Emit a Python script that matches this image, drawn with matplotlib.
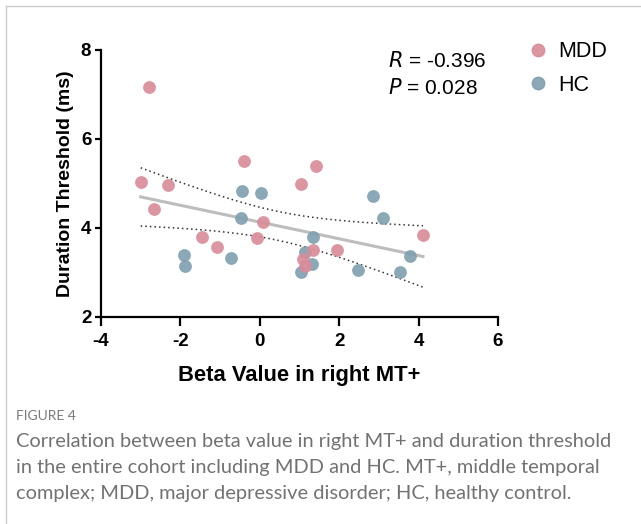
import numpy as np
import matplotlib.pyplot as plt
from matplotlib.lines import Line2D

# data
mdd_x = [-3.00, -2.78, -2.67, -2.32, -1.46, -1.09, -0.40, -0.08, 0.09, 1.04, 1.41, 1.10, 1.15, 1.33, 1.94, 4.11]
mdd_y = [5.03, 7.16, 4.42, 4.97, 3.80, 3.57, 5.50, 3.77, 4.13, 4.98, 5.39, 3.29, 3.14, 3.51, 3.50, 3.83]
hc_x = [-1.92, -1.89, -0.72, -0.45, -0.48, 0.02, 1.04, 1.14, 1.31, 1.33, 2.47, 2.85, 3.10, 3.53, 3.79]
hc_y = [3.38, 3.15, 3.33, 4.82, 4.23, 4.78, 3.01, 3.45, 3.19, 3.79, 3.05, 4.71, 4.22, 3.01, 3.36]
r_text = "-0.396"
p_text = "0.028"
caption_lines = ["Correlation between beta value in right MT+ and duration threshold",
                 "in the entire cohort including MDD and HC. MT+, middle temporal",
                 "complex; MDD, major depressive disorder; HC, healthy control."]

c_mdd = '#d98b98'
c_hc = '#7f9fb0'

plt.rcParams['font.family'] = ['Liberation Sans', 'DejaVu Sans']
plt.rcParams['axes.unicode_minus'] = False

fig = plt.figure(figsize=(6.41, 5.24), dpi=100)
ax = fig.add_axes([101 / 641, 1 - 316.7 / 524, (498 - 101) / 641, (316.7 - 50) / 524])

# linear fit with 95% confidence band
x_all = np.array(mdd_x + hc_x)
y_all = np.array(mdd_y + hc_y)
n = len(x_all)
slope, icpt = np.polyfit(x_all, y_all, 1)
xs = np.linspace(x_all.min(), x_all.max(), 100)
fit = slope * xs + icpt
resid = y_all - (slope * x_all + icpt)
s = np.sqrt(np.sum(resid ** 2) / (n - 2))
sxx = np.sum((x_all - x_all.mean()) ** 2)
se = s * np.sqrt(1 / n + (xs - x_all.mean()) ** 2 / sxx)
t = 2.045
ax.plot(xs, fit, color='#bdbdbd', linewidth=2.2, zorder=1)
ax.plot(xs, fit + t * se, color='#333333', linestyle=(0, (1, 2)), linewidth=1.1, zorder=1)
ax.plot(xs, fit - t * se, color='#333333', linestyle=(0, (1, 2)), linewidth=1.1, zorder=1)

ax.scatter(hc_x, hc_y, s=85, color=c_hc, alpha=0.9, linewidths=0, zorder=2)
ax.scatter(mdd_x, mdd_y, s=85, color=c_mdd, alpha=0.9, linewidths=0, zorder=3)

ax.set_xlim(-4, 6)
ax.set_ylim(2, 8)
ax.set_xticks([-4, -2, 0, 2, 4, 6])
ax.set_yticks([2, 4, 6, 8])
for sp in ['top', 'right']:
    ax.spines[sp].set_visible(False)
for sp in ['left', 'bottom']:
    ax.spines[sp].set_linewidth(1.6)
ax.tick_params(axis='x', width=1.6, length=6.5, pad=5, labelsize=13.5)
ax.tick_params(axis='y', width=1.6, length=4, pad=3, labelsize=13.5)
for lab in ax.get_xticklabels() + ax.get_yticklabels():
    lab.set_fontweight('bold')

ax.set_xlabel('Beta Value in right MT+', fontsize=15.8, fontweight='bold', labelpad=11)
ax.set_ylabel('Duration Threshold (ms)', fontsize=14, fontweight='bold', labelpad=5)

fig.text(388 / 641, 1 - 66.7 / 524, r'$\mathit{R}$ = ' + r_text, fontsize=15, va='baseline')
fig.text(388 / 641, 1 - 94 / 524, r'$\mathit{P}$ = ' + p_text, fontsize=15, va='baseline')

handles = [Line2D([], [], marker='o', linestyle='', markersize=9, color=c_mdd, alpha=0.9),
           Line2D([], [], marker='o', linestyle='', markersize=9, color=c_hc, alpha=0.9)]
fig.legend(handles, ['MDD', 'HC'], loc='upper left', bbox_to_anchor=(506 / 641, 1 - 22 / 524),
           frameon=False, fontsize=15.5, handletextpad=0.35, labelspacing=0.58, handlelength=1.2)

# caption below the chart
fig.text(16 / 641, 1 - 416 / 524, 'FIGURE 4', fontsize=10, color='#7a7a7a', va='center',
         family=['Lato', 'DejaVu Sans'])
for i, line in enumerate(caption_lines):
    fig.text(16 / 641, 1 - (441 + 26 * i) / 524, line, fontsize=14.45, color='#727272',
             va='center', family=['Lato', 'DejaVu Sans'])

# light frame around the panel
fig.add_artist(Line2D([5.5 / 641, 5.5 / 641], [0, 1 - 5.5 / 524], color='#cccccc', linewidth=1))
fig.add_artist(Line2D([5.5 / 641, 1], [1 - 5.5 / 524, 1 - 5.5 / 524], color='#cccccc', linewidth=1))

fig.savefig('out.png', dpi=100)
